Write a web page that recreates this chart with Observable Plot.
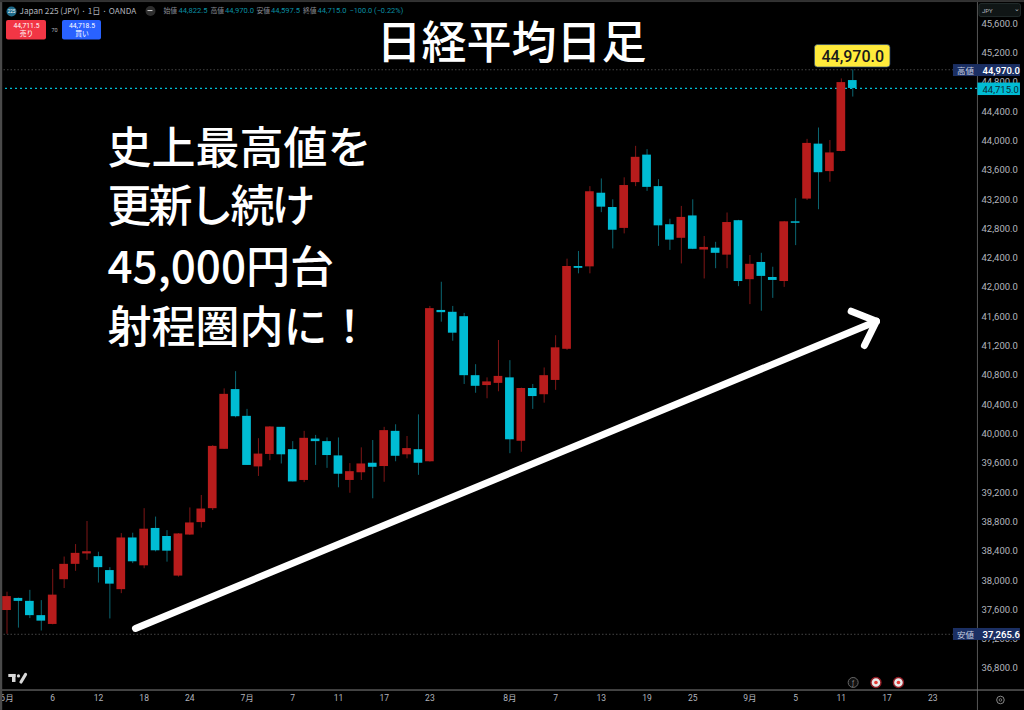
<!DOCTYPE html>
<html lang="ja">
<head>
<meta charset="utf-8">
<script src="https://cdn.jsdelivr.net/npm/d3@7"></script>
<script src="https://cdn.jsdelivr.net/npm/@observablehq/plot@0.6"></script>
<style>
html,body{margin:0;padding:0;background:#000;}
svg{display:block;}
</style>
</head>
<body>
<div id="chart"></div>
<script>
const opens = [37590,37755,37715,37520,37400,38010,38220,38372,38325,38135,37875,38580,38200,38710,38600,38060,38620,38790,38980,39790,40605,40240,39550,39720,40090,39785,39365,39930,39895,39700,39365,39470,39600,39555,40035,39715,39785,39620,41685,41660,41600,40795,40660,40690,40765,39900,40620,40535,40730,41155,42285,42280,43285,43090,42805,43430,43805,43375,42855,42670,42975,42520,42535,42440,42910,42105,42340,42135,42080,42895,43205,43955,43580,43855,44822.5];
const highs = [37840,37760,37865,37725,38150,38320,38490,38805,38385,38175,38640,38645,38980,38865,38680,38640,38990,39160,39840,40615,40850,40335,39935,40100,40090,39895,40035,39980,39945,39945,39595,39810,39910,40090,40125,39965,40260,41740,42070,41740,41645,40945,40765,41275,41000,40625,40675,40900,41340,42385,42490,43375,43480,43195,43495,43925,43880,43470,42930,43105,43195,42695,42615,43015,42915,42435,42465,42275,42900,43210,44020,44175,44005,44845,44970];
const lows = [37265.6,37350,37480,37310,37395,37890,38125,38275,37965,37475,37820,38230,38160,38390,38250,38045,38615,38715,38955,39790,40220,39570,39420,39635,39590,39345,39335,39570,39530,39265,39190,39365,39115,39340,39620,39660,39435,39615,41525,41265,40675,40555,40480,40575,39730,39750,40335,40420,40595,41140,42185,42185,43020,42525,42730,43375,43310,42560,42505,42320,42515,42115,42255,42255,42010,41765,41675,41850,42000,42570,43185,43060,43435,43850,44597.5];
const closes = [37780,37715,37520,37445,37800,38220,38370,38382,38175,37950,38580,38255,38700,38405,38400,38635,38785,38975,39830,40540,40235,39570,39725,40095,39715,39345,39940,39895,39705,39450,39485,39590,39545,40045,39695,39800,39600,41710,41655,41375,40795,40650,40710,40785,39920,40620,40510,40795,41175,42285,42260,43305,43095,42780,43390,43775,43365,42840,42645,42955,42520,42535,42465,42885,42080,42315,42150,42095,42895,42875,43965,43565,43835,44795,44715];

const yTicks = [45600,45200,44800,44400,44000,43600,43200,42800,42400,42000,41600,41200,40800,40400,40000,39600,39200,38800,38400,38000,37600,37200,36800];
const xTicks = [0,4,8,12,16,21,25,29,33,37,44,48,52,56,60,65,69,73,77,81];
const xTickLabels = ["6月","6","12","18","24","7月","7","11","17","23","8月","7","13","19","25","9月","5","11","17","23"];

const high = 44970, low = 37265.6, last = 44715;
const titleText = "日経平均日足";
const noteLines = ["史上最高値を","更新し続け","45,000円台","射程圏内に！"];
const arrowShaftX = [11.24,76.07], arrowShaftY = [37345,41538];
const arrowHeadX = [73.86,76.07,75.02], arrowHeadY = [41675,41538,41207];

// Page-chrome placement helpers: pixel position on the screenshot to the scale's units
const X = p => (p - 6.5) / 11.43;
const Y = p => 45914.5 - 13.646 * p;

const JP = '"Noto Sans CJK JP","Noto Sans",sans-serif';
const UI = 'Roboto,"Noto Sans CJK JP",sans-serif';
const RED = "#b71c1c", BLUE = "#00bcd4", RED_W = "#7f1616", BLUE_W = "#0b6672";

const idx = d3.range(opens.length);
const up = i => closes[i] >= opens[i];

const label = (t, px, py, o = {}) => Plot.text([t], {
  x: () => X(px), y: () => Y(py), text: d => d, lineAnchor: "middle",
  fontFamily: UI, fontSize: 8, fill: "#b2b5bd", textAnchor: "start", ...o
});
const box = (x1, x2, y1, y2, o = {}) => Plot.rect([0], {
  x1: () => X(x1), x2: () => X(x2), y1: () => Y(y1), y2: () => Y(y2), ...o
});

const chart = Plot.plot({
  width: 1024, height: 710,
  marginTop: 0, marginLeft: 0, marginRight: 47, marginBottom: 20,
  style: {background: "#000", fontFamily: UI},
  x: {type: "linear", domain: [0, 85], range: [6.5, 978], axis: null},
  y: {type: "linear", domain: [36800, 45600], range: [667.9, 23.1], axis: null},
  marks: [
    // levels
    Plot.ruleY([high], {x1: () => X(0), x2: () => X(953), stroke: "#555", strokeWidth: 0.8, strokeDasharray: "1.5 2"}),
    Plot.ruleY([low], {x1: () => X(0), x2: () => X(953), stroke: "#555", strokeWidth: 0.8, strokeDasharray: "1.5 2"}),
    Plot.ruleY([last], {x1: () => X(0), x2: () => X(977), stroke: BLUE, strokeWidth: 1.2, strokeDasharray: "2 3"}),

    // candles
    Plot.ruleX(idx, {x: i => i, y1: i => lows[i], y2: i => highs[i], stroke: i => up(i) ? RED_W : BLUE_W, strokeWidth: 1}),
    Plot.rect(idx, {
      x1: i => i - 0.38, x2: i => i + 0.38,
      y1: i => Math.min(opens[i], closes[i]) - (Math.abs(opens[i] - closes[i]) < 20 ? 10 : 0),
      y2: i => Math.max(opens[i], closes[i]) + (Math.abs(opens[i] - closes[i]) < 20 ? 10 : 0),
      fill: i => up(i) ? RED : BLUE
    }),

    // arrow
    Plot.line(arrowShaftX.map((x, k) => [x, arrowShaftY[k]]), {x: d => d[0], y: d => d[1], stroke: "#fff", strokeWidth: 7, strokeLinecap: "round", curve: "linear"}),
    Plot.line(arrowHeadX.map((x, k) => [x, arrowHeadY[k]]), {x: d => d[0], y: d => d[1], stroke: "#fff", strokeWidth: 7, strokeLinecap: "round", strokeLinejoin: "round", curve: "linear"}),

    // axes
    Plot.axisY(yTicks, {anchor: "right", tickSize: 0, tickPadding: 4, label: null, textAnchor: "start", tickFormat: d3.format(",.1f"), fontSize: 9.5, fontFamily: UI, fill: "#b2b5bd"}),
    Plot.axisX(xTicks, {anchor: "bottom", tickSize: 0, tickPadding: 4, label: null, tickFormat: i => xTickLabels[xTicks.indexOf(i)], fontSize: 8.5, fontFamily: UI, fill: "#b2b5bd"}),
    box(977, 977.9, 0, 710, {fill: "#5e5e5e"}),
    box(0, 1024, 689.5, 690.6, {fill: "#777"}),
    box(0, 2.2, 0, 710, {fill: "#4a4a4a"}),
    box(0, 1024, 0, 2, {fill: "#333"}),

    // price badges
    box(953, 1020, 64, 76, {fill: "#1b2f63"}),
    label("高値", 965, 70.5, {fontFamily: JP, fontSize: 8.5, textAnchor: "middle", fill: "#c8d0e0"}),
    label("44,970.0", 982, 70.5, {fontSize: 9.5, fontWeight: 600, fill: "#fff"}),
    box(977.5, 1020, 82.5, 95, {fill: BLUE}),
    label("44,715.0", 982, 89, {fontSize: 9.5, fill: "#0b2a33"}),
    box(953, 1020, 628, 640, {fill: "#1b2f63"}),
    label("安値", 965, 634.5, {fontFamily: JP, fontSize: 8.5, textAnchor: "middle", fill: "#c8d0e0"}),
    label("37,265.6", 982, 634.5, {fontSize: 9.5, fontWeight: 600, fill: "#fff"}),

    // yellow callout
    box(814.5, 890, 44.5, 67, {fill: "#ffeb3b", rx: 3, stroke: "#2a4a7a", strokeWidth: 0.7}),
    label("44,970.0", 852.3, 56.3, {fontSize: 16, fontWeight: 500, fill: "#1a1a1a", textAnchor: "middle"}),

    // header
    Plot.dot([0], {x: () => X(11), y: () => Y(11), r: 5, fill: "#1e6a8a"}),
    label("225", 11, 11, {fontSize: 4.5, fill: "#fff", textAnchor: "middle"}),
    label("Japan 225 (JPY) · 1日 · OANDA", 19, 11, {fontFamily: JP, fontSize: 8.2}),
    Plot.dot([0], {x: () => X(150), y: () => Y(10.5), r: 5, fill: "#2e2e2e"}),
    box(147.5, 152.5, 10, 11, {fill: "#ccc"}),
    label("始値", 163, 10.5, {fontFamily: JP, fontSize: 6.8, fill: "#8a8d95"}),
    label("44,822.5", 178, 10.5, {fontSize: 7.6, fill: "#0a8fa3"}),
    label("高値", 210, 10.5, {fontFamily: JP, fontSize: 6.8, fill: "#8a8d95"}),
    label("44,970.0", 224.5, 10.5, {fontSize: 7.6, fill: "#0a8fa3"}),
    label("安値", 256, 10.5, {fontFamily: JP, fontSize: 6.8, fill: "#8a8d95"}),
    label("44,597.5", 270.5, 10.5, {fontSize: 7.6, fill: "#0a8fa3"}),
    label("終値", 302.5, 10.5, {fontFamily: JP, fontSize: 6.8, fill: "#8a8d95"}),
    label("44,715.0", 317, 10.5, {fontSize: 7.6, fill: "#0a8fa3"}),
    label("−100.0 (−0.22%)", 349, 10.5, {fontSize: 7.4, fill: "#0a8fa3"}),
    box(6, 46, 20, 39.5, {fill: "#f23645", rx: 2}),
    label("44,711.5", 26, 25.7, {fontSize: 6.8, fill: "#fff", textAnchor: "middle"}),
    label("売り", 26, 33.5, {fontFamily: JP, fontSize: 6.8, fill: "#fff", textAnchor: "middle"}),
    label("70", 54, 29.5, {fontSize: 5.5, textAnchor: "middle"}),
    box(62, 101, 20, 39.5, {fill: "#2962ff", rx: 2}),
    label("44,718.5", 81.5, 25.7, {fontSize: 6.8, fill: "#fff", textAnchor: "middle"}),
    label("買い", 81.5, 33.5, {fontFamily: JP, fontSize: 6.8, fill: "#fff", textAnchor: "middle"}),

    // currency box
    box(979, 1020.5, 3.5, 16.5, {fill: "#101616", stroke: "#2a3434", strokeWidth: 0.8, rx: 2}),
    label("JPY", 981.5, 10.5, {fontSize: 6, fill: "#b2b5bd"}),
    label("⌄", 1016.5, 8.5, {fontSize: 7, textAnchor: "middle", fill: "#b2b5bd"}),

    // TradingView mark
    box(8.3, 15.5, 674, 677, {fill: "#d8d8d8"}),
    box(12, 15.5, 674, 682, {fill: "#d8d8d8"}),
    Plot.dot([0], {x: () => X(18), y: () => Y(675.5), r: 1.6, fill: "#d8d8d8"}),
    Plot.line([[25, 674], [20.5, 681.5]], {x: d => X(d[0]), y: d => Y(d[1]), stroke: "#d8d8d8", strokeWidth: 3.2}),

    // bottom icons
    Plot.dot([0], {x: () => X(852.7), y: () => Y(682), r: 5, stroke: "#666", strokeWidth: 1, fill: "#111"}),
    label("ƒ", 852.7, 682, {fontSize: 6.5, textAnchor: "middle", fill: "#888"}),
    Plot.dot([875.5, 898], {x: d => X(d), y: () => Y(682), r: 5, stroke: "#8e1a22", strokeWidth: 1.4, fill: "#e8e8e8"}),
    Plot.dot([875.5, 898], {x: d => X(d), y: () => Y(682), r: 1.8, fill: "#e53935"}),
    Plot.dot([0], {x: () => X(1000), y: () => Y(699.5), r: 3.8, stroke: "#888", strokeWidth: 1, fill: "none"}),
    Plot.dot([0], {x: () => X(1000), y: () => Y(699.5), r: 1.3, stroke: "#888", strokeWidth: 0.8, fill: "none"}),

    // headline text
    label(titleText, 376, 44, {fontFamily: JP, fontSize: 45, fontWeight: 500, fill: "#fff"}),
    label(noteLines[0], 107, 149, {fontFamily: JP, fontSize: 44, fontWeight: 500, fill: "#fff"}),
    label(noteLines[1], 107, 207, {fontFamily: JP, fontSize: 44, fontWeight: 500, fill: "#fff"}),
    label(noteLines[2], 107, 268, {fontFamily: JP, fontSize: 44, fontWeight: 500, fill: "#fff"}),
    label(noteLines[3], 107, 328, {fontFamily: JP, fontSize: 44, fontWeight: 500, fill: "#fff"})
  ]
});
chart.querySelectorAll("text").forEach(t => {
  if (t.textContent === noteLines[1]) t.style.letterSpacing = "-3px";
});
document.getElementById("chart").appendChild(chart);
</script>
</body>
</html>
